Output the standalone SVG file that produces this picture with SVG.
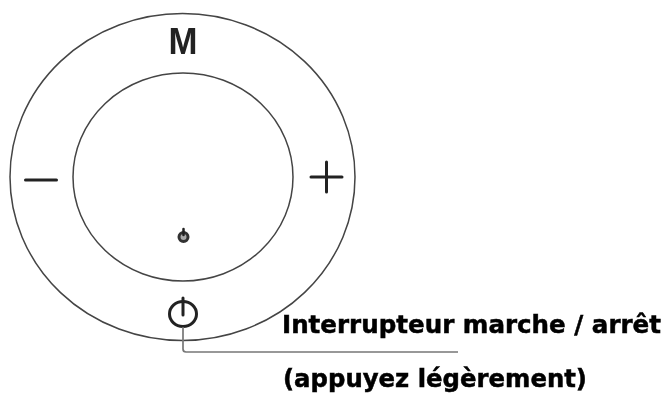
<svg xmlns="http://www.w3.org/2000/svg" width="668" height="394" viewBox="0 0 668 394">
<defs><filter id="soft" x="-5%" y="-5%" width="110%" height="110%"><feGaussianBlur stdDeviation="0.45"/></filter></defs>
<style>
.o{fill:none;stroke:#444;stroke-width:1.5}
.s{fill:none;stroke:#222;stroke-linecap:round}
.l{font-family:"DejaVu Sans",sans-serif;font-weight:700;font-size:24.500px;fill:#000;stroke:#000;stroke-width:.5}
</style>
<rect width="668" height="394" fill="#fff"/>
<g filter="url(#soft)">
<g id="outer-ring"><ellipse class="o" cx="182.500" cy="177" rx="172.500" ry="163.500"/></g>
<g id="inner-ring"><ellipse class="o" cx="183" cy="177" rx="110" ry="104"/></g>
<g id="mode"><text x="183" y="53.500" text-anchor="middle" textLength="29" lengthAdjust="spacingAndGlyphs" style="font-family:'Liberation Sans',sans-serif;font-size:36px;font-weight:700;fill:#222">M</text></g>
<g id="minus"><path class="s" stroke-width="3" d="M25.500 180H56.500"/></g>
<g id="plus"><path class="s" stroke-width="3" d="M311 177H342M326.500 162V192"/></g>
<g id="led"><circle cx="183.500" cy="237" r="4.500" fill="#aaa" stroke="#333" stroke-width="3"/><path class="s" stroke-width="2.500" d="M183.500 229V235"/></g>
<g id="power"><ellipse cx="183" cy="314" rx="13.500" ry="12.500" fill="none" stroke="#222" stroke-width="3"/><path class="s" stroke-width="3" d="M183 298V315"/></g>
<g id="connectors"><path d="M183 327V349Q183 352 186 352H458" fill="none" stroke="#777" stroke-width="1.700"/></g>
<g id="labels"><text class="l" x="282" y="333" textLength="379" lengthAdjust="spacingAndGlyphs">Interrupteur marche / arrêt</text><text class="l" x="283" y="387" textLength="304" lengthAdjust="spacingAndGlyphs">(appuyez légèrement)</text></g>
</g>
</svg>
